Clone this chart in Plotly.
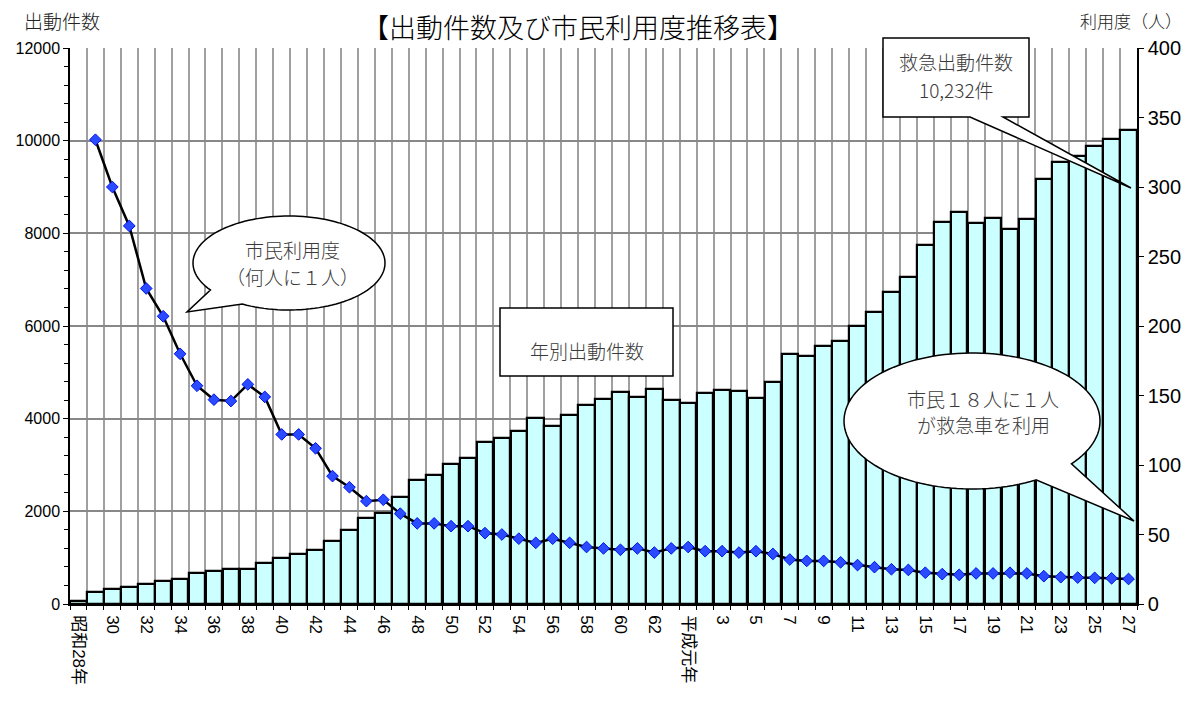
import math
import plotly.graph_objects as go

# ---------------- data ----------------
years = (["昭和28年"] + [str(n) for n in range(29, 64)] +
         ["平成元年"] + [str(n) for n in range(2, 28)])

dispatches = [60, 265, 317, 360, 432, 496, 540, 669, 712, 762, 762, 878, 986, 1086,
              1158, 1360, 1595, 1855, 1957, 2316, 2676, 2777, 3028, 3145, 3490, 3576,
              3734, 4022, 3849, 4087, 4302, 4432, 4569, 4475, 4633, 4403, 4331, 4554,
              4626, 4597, 4439, 4798, 5396, 5346, 5561, 5676, 5993, 6310, 6740, 7060,
              7740, 8250, 8460, 8215, 8330, 8085, 8315, 9170, 9550, 9675, 9878, 10030,
              10232]

usage = [None, 334, 300, 272, 227, 207, 180, 157, 147, 146, 158, 149, 122, 122, 112,
         92, 84, 74, 75, 65, 58, 58, 56, 56, 51, 50, 47, 44, 47, 44, 41, 40, 39, 40,
         37, 40, 41, 38, 38, 37, 38, 36, 32, 31, 31, 30, 28, 26.5, 25, 24.5, 22.5,
         21.5, 21, 22, 22, 22.5, 22, 20, 19.3, 19, 18.8, 18.5, 18]

tick_labels = [y if i % 2 == 0 else "" for i, y in enumerate(years)]

# ---------------- layout geometry ----------------
# the page adds an 8px body margin, so the figure is drawn 8px smaller and
# positions below are given in window pixels
OFF = 8
W, H = 1200 - OFF, 704 - OFF
PL, PT, PW, PH = 70, 48, 1067, 556          # plot area in window pixels
ML, MT = PL - OFF, PT - OFF
MR = W - ML - PW
MB = H - MT - PH


def px(x):
    return (x - PL) / PW


def py(y):
    return (PT + PH - y) / PH


def path_from(points):
    return "M " + " L ".join(f"{px(a):.5f},{py(b):.5f}" for a, b in points) + " Z"


def ellipse_callout(cx, cy, rx, ry, t_start, t_end, tip, n=120):
    pts = []
    t0 = math.radians(t_start)
    t1 = math.radians(t_end) + 2 * math.pi
    for k in range(n + 1):
        t = t0 + (t1 - t0) * k / n
        pts.append((cx + rx * math.cos(t), cy + ry * math.sin(t)))
    pts.append(tip)
    return path_from(pts)


xs = list(range(len(years)))
FONT_JP = "Noto Sans CJK JP Light, Noto Sans CJK JP DemiLight, Noto Sans CJK JP"
FONT_NUM = "Liberation Sans, Arial, Noto Sans CJK JP"

fig = go.Figure()
fig.add_trace(go.Bar(
    x=xs, y=dispatches, name="年別出動件数",
    marker=dict(color="#CCFFFF", line=dict(color="black", width=2.2)),
    width=0.98,
))
fig.add_trace(go.Scatter(
    x=xs, y=usage, name="市民利用度", yaxis="y2", mode="lines+markers",
    line=dict(color="black", width=2.5),
    marker=dict(symbol="diamond", size=9, color="#2a4bff",
                line=dict(color="#0010ee", width=1)),
    connectgaps=False,
))

shapes = []
shapes.append(dict(type="path", xref="paper", yref="paper",
                   path=path_from([(883, 38), (1029, 38), (1029, 117), (1003, 117),
                                   (1131, 188), (970, 117), (883, 117)]),
                   fillcolor="white", line=dict(color="black", width=1.5), layer="above"))
shapes.append(dict(type="rect", xref="paper", yref="paper",
                   x0=px(500), x1=px(673), y0=py(376), y1=py(308),
                   fillcolor="white", line=dict(color="black", width=1.5), layer="above"))
shapes.append(dict(type="path", xref="paper", yref="paper",
                   path=ellipse_callout(289, 263, 96, 47, 145, 119, (187, 312)),
                   fillcolor="white", line=dict(color="black", width=1.5), layer="above"))
shapes.append(dict(type="path", xref="paper", yref="paper",
                   path=ellipse_callout(972, 421, 128, 68, 60, 39, (1134, 521)),
                   fillcolor="white", line=dict(color="black", width=1.5), layer="above"))

call = dict(family=FONT_JP, size=19, color="#3a3a3a", weight=300)


def note(text, x, y, font, anchor="center"):
    return dict(text=text, x=px(x), y=py(y), xanchor=anchor, yanchor="middle",
                font=font, xref="paper", yref="paper", showarrow=False)


annotations = [
    note("出動件数", 22, 20, dict(family=FONT_JP, size=19, color="#222", weight=300), "left"),
    note("利用度（人）", 1078, 20, dict(family=FONT_JP, size=17, color="#222", weight=300),
         "left"),
    note("救急出動件数", 956, 62, call),
    note("10,232件", 956, 89, call),
    note("年別出動件数", 587, 351, call),
    note("市民利用度", 292, 250, call),
    note("（何人に１人）", 292, 276, call),
    note("市民１８人に１人", 983, 398, call),
    note("が救急車を利用", 983, 424, call),
]

boundaries = [i - 0.5 for i in range(len(years) + 1)]

fig.update_layout(
    width=W, height=H,
    margin=dict(l=ML, r=MR, t=MT, b=MB, autoexpand=False),
    paper_bgcolor="white", plot_bgcolor="white",
    showlegend=False,
    bargap=0,
    title=dict(text="【出動件数及び市民利用度推移表】", x=(578 - OFF) / W,
               y=1 - (29 - OFF) / H,
               xanchor="center", yanchor="middle", xref="container", yref="container",
               font=dict(family=FONT_JP, size=27, color="black", weight=300)),
    xaxis=dict(
        range=[-0.5, len(years) - 0.5],
        tickmode="array", tickvals=xs, ticktext=tick_labels,
        tickangle=90, ticks="", showgrid=False, ticklabelstandoff=6,
        tickfont=dict(family=FONT_NUM, size=17, color="black"),
        showline=True, linecolor="black", linewidth=1.5,
        minor=dict(tickmode="array", tickvals=boundaries, showgrid=True,
                   gridcolor="#a0a0a0", gridwidth=2, ticks="outside", ticklen=4,
                   tickcolor="black"),
        zeroline=False,
    ),
    yaxis=dict(
        range=[0, 12000], dtick=2000, tick0=0, tickformat="d",
        showgrid=True, gridcolor="#888888", gridwidth=1.5,
        ticks="outside", ticklen=5, tickcolor="black",
        showline=True, linecolor="black", linewidth=1.5,
        tickfont=dict(family=FONT_NUM, size=16, color="black"),
        minor=dict(dtick=400, ticks="outside", ticklen=4, tickcolor="black", showgrid=False),
        zeroline=False,
    ),
    yaxis2=dict(
        range=[0, 400], dtick=50, tick0=0, overlaying="y", side="right",
        showgrid=False, ticks="outside", ticklen=5, tickcolor="black",
        showline=True, linecolor="black", linewidth=1.5,
        tickfont=dict(family=FONT_NUM, size=20, color="black"),
        zeroline=False,
    ),
    shapes=shapes,
    annotations=annotations,
)

fig.write_html("out.html")
